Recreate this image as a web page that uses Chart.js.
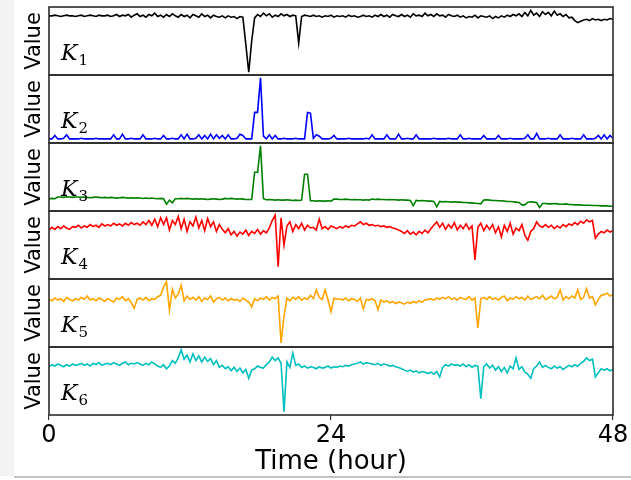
<!DOCTYPE html>
<html lang="en">
<head>
<meta charset="UTF-8">
<title>K1 - K6 over 48 hours</title>
<style>
  html, body { margin: 0; padding: 0; background: #fff; }
  #wrap { position: relative; width: 631px; height: 480px; }
  canvas { display: block; }
</style>
</head>
<body>
<div id="wrap"><canvas id="chart" width="631" height="480"></canvas></div>
<script src="https://cdn.jsdelivr.net/npm/chart.js"></script>
<script>
// one sample every 15 minutes, 0..48 h (values in arbitrary units, 0..100 per panel)
const k1 = [
  87, 87, 88, 87, 86, 87, 88, 87, 87, 86,
  87, 88, 86, 87, 88, 87, 86, 88, 87, 87,
  88, 86, 87, 89, 86, 88, 87, 89, 85, 88,
  90, 86, 88, 85, 89, 87, 91, 86, 88, 85,
  89, 86, 90, 87, 85, 89, 86, 88, 84, 89,
  87, 85, 90, 86, 88, 84, 88, 86, 85, 87,
  84, 87, 85, 86, 83, 86, 85, 45, 4, 50,
  84, 89, 86, 91, 87, 90, 85, 88, 86, 90,
  87, 89, 86, 88, 87, 47, 86, 88, 87, 86,
  88, 86, 87, 85, 87, 86, 88, 85, 87, 86,
  87, 85, 88, 86, 87, 85, 86, 88, 86, 87,
  85, 88, 86, 89, 86, 88, 85, 89, 87, 86,
  89, 86, 88, 85, 90, 87, 88, 86, 91, 87,
  89, 86, 90, 87, 88, 85, 89, 87, 86, 88,
  85, 87, 84, 86, 85, 88, 84, 87, 86, 85,
  87, 83, 86, 84, 87, 85, 88, 86, 89, 87,
  90, 86, 92, 87, 95, 88, 91, 86, 93, 89,
  92, 87, 94, 88, 90, 86, 89, 84, 85, 80,
  77, 79, 81, 82, 80, 83, 81, 82, 80, 82,
  81, 83, 82
];
const k2 = [
  6, 6, 11, 6, 6, 7, 12, 6, 6, 6,
  6, 7, 6, 6, 6, 6, 7, 6, 6, 6,
  6, 6, 12, 6, 6, 13, 6, 6, 7, 6,
  6, 6, 12, 6, 6, 6, 7, 6, 6, 11,
  6, 6, 7, 6, 6, 12, 6, 13, 6, 6,
  7, 12, 6, 11, 6, 13, 6, 12, 7, 11,
  6, 12, 6, 6, 7, 13, 11, 6, 6, 6,
  45, 45, 96, 10, 6, 12, 6, 11, 6, 6,
  7, 6, 6, 6, 7, 6, 6, 6, 45, 44,
  7, 12, 10, 6, 6, 6, 7, 11, 6, 6,
  6, 6, 7, 6, 6, 6, 6, 6, 7, 6,
  12, 6, 6, 6, 6, 12, 6, 6, 6, 13,
  6, 6, 7, 6, 6, 12, 6, 6, 6, 6,
  6, 7, 6, 6, 6, 6, 7, 6, 6, 6,
  12, 6, 6, 7, 6, 6, 6, 6, 11, 6,
  6, 6, 6, 11, 6, 6, 6, 7, 6, 6,
  6, 6, 7, 12, 6, 6, 14, 6, 6, 6,
  7, 6, 6, 6, 12, 6, 6, 6, 7, 6,
  6, 6, 12, 6, 6, 6, 7, 11, 6, 12,
  6, 11, 7
];
const k3 = [
  18, 18.5, 18, 20.5, 20.5, 20, 21, 20.5, 20, 20.5,
  20.5, 20, 20.5, 20, 19.5, 20, 20.5, 20, 19.5, 20,
  19.5, 20, 19.5, 19, 19.5, 20, 19.5, 19, 19.5, 19,
  19.5, 19, 18.5, 19, 18.5, 19, 18.5, 18, 18.5, 18,
  10, 16, 12, 18, 18, 18.5, 18, 18.5, 18, 17.5,
  18, 17.5, 18, 17.5, 17, 17.5, 18, 17.5, 17, 17.5,
  18.5, 18, 18.5, 18, 17.5, 18, 17.5, 17, 17, 17,
  57, 57, 96, 18, 16.5, 17, 16.5, 16, 16.5, 16,
  16, 16.5, 16, 15.5, 16, 15.5, 16, 54, 54, 15,
  15, 14.5, 15, 14.5, 14.5, 15, 14.5, 17.5, 17.5, 17,
  17, 17.5, 17, 16.5, 17, 16.5, 16.5, 16, 16.5, 16,
  17.5, 17, 17.5, 17, 17, 16.5, 17, 16.5, 16.5, 16,
  16.5, 16, 16, 15.5, 8, 15.5, 15, 15.5, 15, 14.5,
  14.5, 14, 6, 14, 13.5, 14, 13.5, 13, 13.5, 13,
  13, 12.5, 12.5, 12, 12, 11.5, 11, 10.5, 16, 16.5,
  16, 15.5, 15.5, 15, 15, 14.5, 14, 14, 13.5, 13,
  12.5, 9, 9, 13, 13.5, 13, 12.5, 5, 11, 11,
  10.5, 10.5, 11, 10.5, 10, 10, 10.5, 9.5, 9.5, 9,
  9, 9, 8.5, 8.5, 8.5, 8, 8, 8, 7.5, 7.5,
  7.5, 7, 7
];
const k4 = [
  72, 76, 73, 77, 74, 78, 75, 73, 77, 76,
  79, 75, 78, 76, 80, 77, 79, 76, 81, 78,
  80, 78, 82, 79, 81, 78, 82, 79, 83, 80,
  82, 79, 84, 80, 86, 79, 88, 77, 90, 80,
  90, 72, 86, 80, 92, 74, 88, 70, 84, 78,
  91, 75, 86, 71, 89, 77, 84, 70, 80, 73,
  68, 74, 65, 70, 63, 69, 66, 72, 64, 70,
  67, 73, 66, 71, 68, 75, 86, 94, 18, 90,
  50, 78, 84, 70, 80, 74, 82, 72, 79, 75,
  76, 72, 88, 74, 77, 73, 78, 76, 74, 77,
  75, 78, 76, 79, 78, 81, 84, 80, 82, 79,
  80, 78, 79, 77, 78, 76, 77, 75, 74, 72,
  70, 67, 71, 66, 69, 65, 70, 67, 72, 68,
  74, 79, 84, 76, 82, 73, 80, 75, 83, 72,
  79, 74, 81, 73, 78, 28, 76, 82, 71, 79,
  73, 80, 68, 77, 62, 79, 70, 82, 66, 75,
  71, 80, 64, 57, 70, 74, 84, 78, 76, 80,
  76, 79, 74, 78, 75, 80, 77, 81, 79, 83,
  80, 85, 82, 87, 84, 86, 60, 66, 70, 68,
  72, 69, 71
];
const k5 = [
  70, 68, 72, 69, 71, 67, 73, 70, 68, 71,
  69, 73, 70, 75, 69, 71, 68, 72, 70, 67,
  71, 69, 66, 72, 70, 74, 68, 71, 65, 57,
  70, 72, 69, 73, 68, 71, 70, 74, 76, 88,
  96, 54, 85, 72, 78, 91, 68, 75, 70, 73,
  69, 74, 67, 72, 70, 75, 66, 71, 73, 69,
  72, 68, 71, 69, 70, 67, 72, 69, 66, 59,
  71, 68, 72, 70, 74, 69, 73, 71, 75, 6,
  45, 72, 68, 73, 70, 74, 69, 72, 70, 76,
  71, 84, 73, 70, 84, 69, 52, 72, 70, 71,
  69, 72, 68, 71, 70, 67, 72, 56, 70, 69,
  71, 68, 55, 69, 66, 68, 65, 67, 64, 66,
  65, 63, 66, 64, 67, 65, 68, 66, 69, 70,
  71, 69, 72, 70, 73, 71, 74, 70, 72, 69,
  73, 71, 70, 74, 69, 72, 28, 71, 73, 70,
  74, 70, 72, 69, 73, 75, 68, 72, 70, 74,
  71, 73, 69, 75, 70, 72, 74, 71, 76, 70,
  72, 75, 71, 73, 84, 69, 74, 71, 75, 72,
  84, 70, 73, 86, 72, 74, 62, 70, 76, 77,
  79, 75, 77
];
const k6 = [
  71, 74, 72, 75, 73, 71, 74, 72, 75, 73,
  74, 76, 73, 75, 72, 76, 74, 77, 73, 75,
  76, 74, 77, 75, 73, 76, 78, 74, 76, 75,
  77, 75, 73, 76, 74, 78, 75, 72, 70, 74,
  68, 72, 80, 76, 84, 96, 82, 88, 78, 90,
  80, 87, 78, 85, 79, 83, 74, 80, 70, 73,
  68, 71, 65, 70, 64, 69, 62, 67, 54, 66,
  68, 72, 70, 69, 74, 78, 85, 80, 84, 76,
  5, 78, 70, 91, 73, 75, 70, 72, 69, 71,
  70, 68, 71, 69, 70, 72, 69, 71, 70, 72,
  71, 73, 72, 74, 75, 76, 78, 75, 77, 76,
  75, 74, 76, 73, 75, 74, 72, 73, 71, 70,
  68, 66, 64, 66, 63, 65, 62, 64, 63, 61,
  63, 60, 64, 56, 70, 74, 72, 75, 73, 74,
  72, 75, 71, 74, 70, 73, 72, 24, 71, 75,
  69, 73, 66, 71, 64, 70, 62, 72, 68, 84,
  67, 71, 63, 60, 54, 68, 72, 78, 70, 73,
  70, 68, 72, 69, 71, 67, 70, 73, 71, 74,
  72, 76, 79, 84, 80, 82, 56, 62, 68, 66,
  68, 65, 67
];

const panelSubs = ['1', '2', '3', '4', '5', '6'];
const panelColors = ['#000000', '#0000ff', '#008000', '#ff0000', '#ffa500', '#00bfbf'];
const xTicks = [0, 24, 48];
const STEP_H = 0.25;
const hours = k1.map((_, i) => i * STEP_H);

const allSeries = [k1, k2, k3, k4, k5, k6];
const axisIds = allSeries.map((_, i) => 'k' + (i + 1));

const datasets = allSeries.map((vals, i) => ({
  label: 'K' + panelSubs[i],
  data: vals.map((v, j) => ({ x: hours[j], y: v })),
  yAxisID: axisIds[i],
  borderColor: panelColors[i],
  borderWidth: 1.6,
  pointRadius: 0,
  tension: 0
}));

const scales = {
  x: {
    type: 'linear',
    min: 0, max: 48,
    afterBuildTicks: s => { s.ticks = xTicks.map(v => ({ value: v })); },
    afterFit: s => { s.height = 65; },
    ticks: {
      color: '#000', padding: 1, maxRotation: 0, autoSkip: false,
      font: { family: 'DejaVu Sans', size: 24 }
    },
    grid: { display: true, drawOnChartArea: false, drawTicks: true, tickLength: 5, color: '#333', lineWidth: 1.2 },
    border: { display: false },
    title: {
      display: true, text: 'Time (hour)', color: '#000',
      font: { family: 'DejaVu Sans', size: 26 },
      padding: { top: 0, bottom: 2 }
    }
  }
};
axisIds.forEach((id, i) => {
  scales[id] = {
    type: 'linear',
    position: 'left',
    stack: 'panels',
    stackWeight: 1,
    weight: axisIds.length - i,   // first panel on top
    min: 0, max: 100,
    afterFit: s => { s.width = 49; },
    ticks: { display: false },
    grid: { display: false },
    border: { display: false },
    title: {
      display: true, text: 'Value', color: '#000',
      font: { family: 'DejaVu Sans', size: 21 },
      padding: { top: 22, bottom: 0 }
    }
  };
});

// page backdrop: light strip on the left and a rule under the figure
const backdrop = {
  id: 'backdrop',
  beforeDraw(chart) {
    const { ctx, width, height } = chart;
    ctx.save();
    ctx.fillStyle = '#fff';
    ctx.fillRect(0, 0, width, height);
    ctx.fillStyle = '#f3f3f3';
    ctx.fillRect(0, 0, 14, height - 4);
    ctx.fillStyle = '#c2c2c2';
    ctx.fillRect(14, height - 4, width - 14, 2);
    ctx.restore();
  }
};

// panel frames and K_i labels
const panelDecor = {
  id: 'panelDecor',
  afterDatasetsDraw(chart) {
    const { ctx, chartArea } = chart;
    ctx.save();
    axisIds.forEach((id, i) => {
      const s = chart.scales[id];
      ctx.strokeStyle = '#2b2b2b';
      ctx.lineWidth = 1.6;
      ctx.strokeRect(chartArea.left, s.top, chartArea.right - chartArea.left, s.bottom - s.top);

      ctx.fillStyle = '#000';
      ctx.textBaseline = 'alphabetic';
      ctx.textAlign = 'left';
      ctx.font = 'italic 22px "DejaVu Serif"';
      const kx = chartArea.left + 12;
      const ky = s.bottom - 15;
      ctx.fillText('K', kx, ky);
      const w = ctx.measureText('K').width;
      ctx.font = '15px "DejaVu Serif"';
      ctx.fillText(panelSubs[i], kx + w + 1, ky + 5);
    });
    ctx.restore();
  }
};

new Chart(document.getElementById('chart'), {
  type: 'line',
  data: { datasets },
  options: {
    responsive: false,
    animation: false,
    devicePixelRatio: 1,
    layout: { padding: { top: 7, right: 18, left: 0, bottom: 0 } },
    plugins: { legend: { display: false }, tooltip: { enabled: false } },
    scales
  },
  plugins: [backdrop, panelDecor]
});
</script>
</body>
</html>
